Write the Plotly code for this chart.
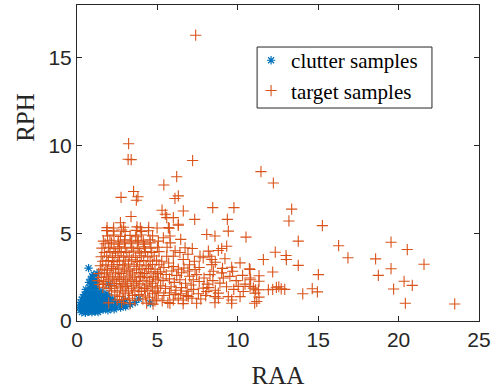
import plotly.graph_objects as go

# ---- data ----
clutter_samples = [
    (0.30,0.50),(0.52,0.47),(0.71,0.52),(0.93,0.49),(1.12,0.54),(1.31,0.51),
    (0.21,0.62),(0.42,0.66),(0.61,0.60),(0.83,0.64),(1.02,0.61),(1.22,0.67),(1.41,0.62),(1.63,0.65),(1.92,0.61),(2.31,0.66),
    (0.15,0.76),(0.36,0.73),(0.55,0.78),(0.76,0.74),(0.95,0.79),(1.16,0.75),(1.36,0.77),(1.55,0.73),(1.81,0.78),(2.12,0.74),(2.43,0.79),(2.71,0.76),(3.02,0.82),
    (0.19,0.91),(0.41,0.88),(0.62,0.93),(0.81,0.89),(1.01,0.92),(1.21,0.87),(1.42,0.94),(1.61,0.90),(1.86,0.93),(2.21,0.88),(2.52,0.95),(2.88,0.90),(3.31,0.93),
    (0.22,1.06),(0.46,1.03),(0.66,1.08),(0.86,1.04),(1.06,1.07),(1.26,1.02),(1.46,1.08),(1.72,1.05),(2.02,1.09),(2.41,1.04),(2.79,1.10),(3.62,1.06),(4.56,1.01),
    (0.31,1.21),(0.52,1.18),(0.71,1.23),(0.92,1.19),(1.11,1.22),(1.32,1.17),(1.56,1.24),(1.82,1.20),(2.23,1.23),(3.01,1.19),(3.84,1.26),
    (0.36,1.36),(0.61,1.33),(0.81,1.38),(1.01,1.34),(1.22,1.37),(1.46,1.32),(1.71,1.39),(2.02,1.35),
    (0.47,1.51),(0.71,1.48),(0.91,1.53),(1.12,1.49),(1.36,1.52),(1.61,1.47),(1.86,1.55),
    (0.62,1.66),(0.86,1.63),(1.06,1.68),(1.31,1.64),(1.55,1.70),
    (0.55,1.80),(0.79,1.88),(1.01,1.93),(1.21,1.86),(1.15,2.05),
    (0.75,2.20),(1.20,2.30),(0.91,2.12),(1.97,2.10),(0.86,2.38),(1.02,2.42),
    (0.95,2.55),(1.25,2.70),(1.04,2.64),(0.72,3.01),
]

target_samples = [
    # sparse / outlying points
    (7.38,16.28),
    (3.21,10.10),(3.18,9.21),(3.37,9.19),(7.19,9.14),
    (11.44,8.51),(6.20,8.22),(12.21,7.86),(5.40,7.75),
    (3.52,7.38),(3.79,7.08),(3.69,6.88),(2.74,7.04),(6.30,7.13),(6.09,6.98),
    (13.35,6.37),(5.29,6.31),(5.49,6.08),(6.61,6.27),(8.44,6.46),(9.76,6.46),
    (3.36,5.95),(5.58,5.89),(5.99,5.89),(7.32,5.79),(9.35,5.79),(13.18,5.70),
    (2.70,5.60),(15.26,5.43),(6.30,5.45),(5.68,5.32),
    (1.87,5.32),(2.28,5.30),(2.90,5.34),(3.73,5.36),(3.94,5.31),(4.46,5.33),(4.98,5.30),
    (5.74,5.28),(6.30,5.51),(9.41,5.12),(13.76,4.55),(10.51,4.78),(8.07,4.93),(8.58,4.84),
    (6.45,4.65),(5.78,4.84),(5.37,4.74),
    (16.27,4.29),(19.53,4.49),(20.54,4.07),(16.85,3.60),(18.57,3.54),(21.58,3.23),
    (19.53,2.98),(18.74,2.60),(20.34,2.26),(20.85,2.03),(19.69,1.82),(20.42,1.01),(23.49,0.97),
    (12.33,3.92),(11.59,3.50),(13.00,3.73),(13.02,3.50),(13.76,3.17),(12.17,2.79),(15.01,2.64),
    (10.76,2.93),(10.76,2.45),(11.32,2.58),(11.32,2.26),(10.97,1.87),(11.11,1.78),
    (11.90,1.78),(12.17,1.80),(12.40,1.92),(12.55,1.95),(12.70,1.83),(12.92,1.80),
    (14.63,1.84),(14.95,1.66),(14.04,1.55),(11.32,1.36),(11.05,1.01),
    # middle region
    (6.72,4.17),(7.17,4.13),(9.31,4.26),(9.00,4.13),(8.79,4.02),(8.17,3.98),
    (7.65,3.69),(7.85,3.60),(8.27,3.69),(8.38,3.50),(5.99,3.69),(5.58,3.69),(5.27,3.40),
    (6.61,3.50),(6.65,3.02),(10.14,3.31),(10.72,2.98),(10.80,2.35),
    (9.62,3.06),(9.68,2.83),(9.51,2.54),(8.38,3.21),(8.48,2.83),(8.27,2.64),
    (9.00,2.74),(9.10,2.45),(8.89,2.16),(7.34,2.93),(7.44,2.64),(7.23,2.35),
    (10.03,1.97),(10.34,1.68),(10.14,1.39),(10.76,1.97),(11.07,1.59),(11.28,1.78),(11.18,1.11),
    (9.62,1.20),(9.41,1.39),(8.79,1.59),(8.58,1.39),(8.79,1.30),(7.44,1.01),(8.07,1.68),(7.85,1.87),
    (6.92,1.39),(6.61,1.20),(6.30,1.30),(5.99,1.20),
    (5.10,3.20),(5.40,3.05),(5.70,3.30),(6.00,3.10),(6.30,2.95),(5.20,2.80),(5.55,2.65),(5.90,2.85),
    (6.20,2.60),(6.50,2.75),(6.90,2.85),(7.00,2.55),
    (5.05,2.45),(5.35,2.30),(5.75,2.40),(6.05,2.20),(6.40,2.35),(6.75,2.15),(7.10,2.05),(7.60,2.25),
    (7.90,2.45),(8.10,2.10),
    (5.20,2.00),(5.50,1.85),(5.85,1.95),(6.15,1.75),(6.50,1.90),(6.85,1.70),(7.25,1.80),(7.55,1.55),
    (8.20,1.90),(8.45,2.30),
    (5.05,1.60),(5.40,1.45),(5.75,1.60),(6.10,1.50),(6.45,1.55),(6.80,1.45),(7.15,1.30),(7.70,1.25),(8.00,1.45),
    (5.30,1.15),(5.65,1.05),(4.95,1.25),
    (6.10,4.00),(5.60,4.20),(6.90,3.80),(7.30,3.40),(7.00,3.20),(6.40,3.90),(5.80,4.45),(7.60,3.05),
    (8.60,3.35),(9.20,3.55),(9.05,3.00),(10.30,2.60),(9.90,2.30),(10.45,2.10),(9.75,1.80),(9.30,1.95),(8.60,1.75),
    # dense core
    (1.97,1.03),(2.50,1.20),(2.78,1.05),(3.30,0.98),(4.33,1.02),(4.73,0.96),(5.78,1.00),
    (6.60,0.99),(8.58,1.04),(9.62,1.01),
    (2.90,1.22),(3.25,1.30),(3.60,1.18),(4.10,1.25),(4.50,1.35),(4.85,1.15),
    (2.35,1.48),(2.65,1.40),(3.00,1.55),(3.45,1.45),(3.85,1.50),(4.25,1.42),(4.70,1.55),
    (2.15,1.72),(2.50,1.65),(2.85,1.75),(3.20,1.65),(3.60,1.72),(4.00,1.68),(4.40,1.75),(4.85,1.70),
    (1.60,1.92),(2.00,1.85),(2.35,1.95),(2.70,1.88),(3.05,1.96),(3.40,1.84),(3.80,1.92),(4.20,1.86),(4.60,1.95),(5.00,1.88),
    (1.40,2.08),(1.75,2.12),(2.10,2.02),(2.45,2.14),(2.80,2.06),(3.15,2.15),(3.50,2.04),(3.90,2.12),(4.30,2.05),(4.70,2.15),
    (1.30,2.30),(1.65,2.25),(1.95,2.35),(2.30,2.28),(2.65,2.36),(3.00,2.26),(3.35,2.34),(3.70,2.25),(4.10,2.32),(4.50,2.26),(4.90,2.35),
    (1.50,2.48),(1.85,2.55),(2.20,2.45),(2.55,2.52),(2.90,2.45),(3.25,2.56),(3.60,2.46),(3.95,2.54),(4.35,2.47),(4.75,2.55),
    (1.35,2.70),(1.70,2.75),(2.05,2.68),(2.40,2.78),(2.75,2.70),(3.10,2.80),(3.45,2.68),(3.85,2.76),(4.20,2.70),(4.60,2.80),(5.00,2.70),
    (1.55,2.95),(1.90,2.90),(2.25,3.00),(2.60,2.92),(2.95,3.02),(3.30,2.90),(3.70,2.98),(4.05,2.92),(4.45,3.00),(4.85,2.95),
    (1.45,3.15),(1.80,3.20),(2.15,3.12),(2.50,3.22),(2.85,3.15),(3.20,3.24),(3.55,3.12),(3.90,3.20),(4.30,3.14),(4.70,3.22),
    (1.60,3.40),(1.95,3.45),(2.30,3.38),(2.65,3.46),(3.00,3.40),(3.40,3.48),(3.75,3.38),(4.15,3.45),(4.55,3.40),(4.95,3.46),
    (1.50,3.66),(1.85,3.70),(2.20,3.62),(2.55,3.72),(2.90,3.64),(3.25,3.70),(3.65,3.62),(4.00,3.72),(4.40,3.65),(4.80,3.70),
    (1.70,3.90),(2.05,3.96),(2.40,3.88),(2.75,3.95),(3.10,3.90),(3.50,3.98),(3.90,3.88),(4.25,3.95),(4.65,3.90),(5.10,3.95),
    (1.55,4.15),(1.95,4.20),(2.30,4.12),(2.65,4.22),(3.00,4.15),(3.40,4.20),(3.80,4.12),(4.20,4.22),(4.60,4.15),(5.00,4.20),
    (1.75,4.40),(2.15,4.45),(2.55,4.38),(2.95,4.45),(3.35,4.40),(3.75,4.46),(4.15,4.38),(4.55,4.45),
    (1.64,4.55),(2.05,4.60),(2.57,4.55),(2.99,4.62),(3.40,4.55),(3.81,4.60),(4.12,4.55),(4.54,4.62),(5.06,4.55),
    (1.90,4.85),(2.30,4.90),(2.70,4.82),(3.30,4.88),(3.65,4.80),(4.00,4.90),(4.70,4.85),
    (1.85,5.15),(2.26,5.12),(2.78,5.18),(2.99,5.10),(3.71,5.16),(4.02,5.10),(4.44,5.14),
]

x_ticks = [0, 5, 10, 15, 20, 25]
y_ticks = [0, 5, 10, 15]
series_names = ["clutter samples", "target samples"]
x_title = "RAA"
y_title = "RPH"

clutter_raa = [p[0] for p in clutter_samples]
clutter_rph = [p[1] for p in clutter_samples]
target_raa = [p[0] for p in target_samples]
target_rph = [p[1] for p in target_samples]

BLUE = "#0072BD"
ORANGE = "#D95319"
AX = "#262626"

fig = go.Figure()
fig.add_trace(go.Scatter(
    x=clutter_raa, y=clutter_rph, mode="markers", name=series_names[0],
    marker=dict(symbol="asterisk-open", size=7, color=BLUE,
                line=dict(color=BLUE, width=1.2)),
))
fig.add_trace(go.Scatter(
    x=target_raa, y=target_rph, mode="markers", name=series_names[1],
    marker=dict(symbol="cross-thin-open", size=8, color=ORANGE,
                line=dict(color=ORANGE, width=1.1)),
))

axis_common = dict(
    showline=True, linecolor=AX, linewidth=1, mirror="ticks",
    ticks="inside", ticklen=5, tickwidth=1, tickcolor=AX,
    showgrid=False, zeroline=False,
    tickfont=dict(family="Liberation Sans", size=21, color=AX),
)

# legend frame (drawn as a box in paper coordinates, legend entries on top)
fig.add_shape(type="rect", xref="paper", yref="paper",
              x0=0.448, x1=0.883, y0=0.674, y1=0.867,
              line=dict(color=AX, width=1), fillcolor="white", layer="above")

# y-axis label
fig.add_annotation(text=y_title, xref="paper", yref="paper",
                   x=-0.127, y=0.646, textangle=-90, showarrow=False,
                   xanchor="center", yanchor="middle",
                   font=dict(family="Liberation Serif", size=25, color=AX))

fig.update_layout(
    width=498, height=392,
    margin=dict(l=77, r=19, t=5, b=71),
    paper_bgcolor="white", plot_bgcolor="white",
    xaxis=dict(range=[0, 25], tickvals=x_ticks,
               title=dict(text=x_title, standoff=16,
                          font=dict(family="Liberation Serif", size=25, color=AX)),
               **axis_common),
    yaxis=dict(range=[0, 18], tickvals=y_ticks, **axis_common),
    legend=dict(x=0.433, y=0.889, xanchor="left", yanchor="top",
                bgcolor="rgba(0,0,0,0)", borderwidth=0,
                font=dict(family="Liberation Serif", size=21, color="black"),
                itemwidth=30, tracegroupgap=0),
    showlegend=True,
)

fig.write_html("out.html")
